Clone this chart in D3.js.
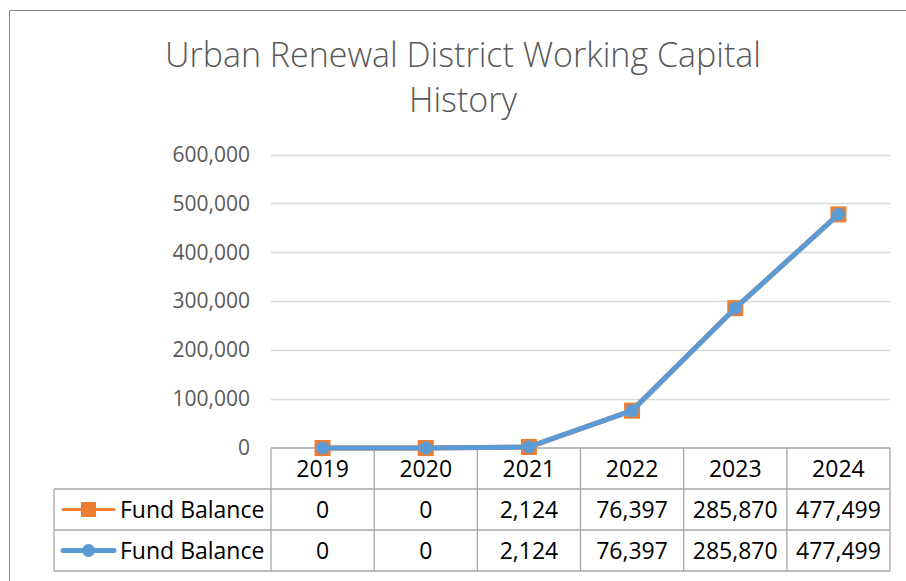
<!DOCTYPE html>
<html><head><meta charset="utf-8">
<script src="https://cdn.jsdelivr.net/npm/d3@7"></script>
<style>body{margin:0;background:#fff}svg{display:block}</style>
</head><body>
<script>
const titleLines = ["Urban Renewal District Working Capital", "History"];
const years = ["2019","2020","2021","2022","2023","2024"];
const seriesNames = ["Fund Balance","Fund Balance"];
const fundBalance = [0, 0, 2124, 76397, 285870, 477499];
const yTicks = [0, 100000, 200000, 300000, 400000, 500000, 600000];

const W = 906, H = 581;
const svg = d3.select("body").append("svg").attr("width", W).attr("height", H);
const font = "'Open Sans', Lato, sans-serif";

// outer chart border
svg.append("path").attr("d", `M9.5,${H} V10.5 H${W}`).attr("fill","none").attr("stroke","#888").attr("stroke-width",1);

// title
svg.append("g").selectAll("text").data(titleLines).join("text")
  .attr("x", 463).attr("y", (d,i)=> 67 + i*45)
  .attr("text-anchor","middle").attr("font-family", font).attr("font-size", 34).attr("font-weight", 300)
  .attr("fill","#595959").text(d=>d);

const x0 = 271, x1 = 890;
const x = d3.scaleBand().domain(years).range([x0, x1]);
const y = d3.scaleLinear().domain([0, 600000]).range([448, 154.5]);

// gridlines
svg.append("g").selectAll("line").data(yTicks.filter(d=>d>0)).join("line")
  .attr("x1", x0).attr("x2", x1).attr("y1", d=>Math.round(y(d))+0.5).attr("y2", d=>Math.round(y(d))+0.5)
  .attr("stroke","#d9d9d9").attr("stroke-width",1.5);

// y axis labels
const yAxis = d3.axisLeft(y).tickValues(yTicks).tickSize(0).tickPadding(0).tickFormat(d3.format(","));
const ya = svg.append("g").attr("transform", `translate(250,0)`).call(yAxis);
ya.select(".domain").remove();
ya.selectAll("text").attr("font-family", font).attr("font-size", 21).attr("fill","#595959");

// data table grid
const rowY = [448, 489, 530, 571];
const tableLeft = 54;
const g = svg.append("g").attr("stroke","#a6a6a6").attr("stroke-width",1.3).attr("fill","none");
g.append("line").attr("x1", x0).attr("x2", x1).attr("y1", rowY[0]).attr("y2", rowY[0]);
[1,2,3].forEach(i=> g.append("line").attr("x1", tableLeft).attr("x2", x1).attr("y1", rowY[i]).attr("y2", rowY[i]));
const vx = years.map(d=>x(d)).concat([x1]);
vx.forEach(v=> g.append("line").attr("x1", v).attr("x2", v).attr("y1", rowY[0]).attr("y2", rowY[3]));
g.append("line").attr("x1", tableLeft).attr("x2", tableLeft).attr("y1", rowY[1]).attr("y2", rowY[3]);

const fs = 23, dy = 8;
// header years
svg.append("g").selectAll("text").data(years).join("text")
  .attr("x", d=>x(d)+x.bandwidth()/2).attr("y", (rowY[0]+rowY[1])/2 + dy)
  .attr("text-anchor","middle").attr("font-family", font).attr("font-size", fs).attr("fill","#000").text(d=>d);

// value rows
const fmt = d3.format(",");
seriesNames.forEach((name, r)=>{
  const cy = (rowY[r+1]+rowY[r+2])/2;
  svg.append("g").selectAll("text").data(fundBalance).join("text")
    .attr("x", (d,i)=>x(years[i])+x.bandwidth()/2).attr("y", cy + dy)
    .attr("text-anchor","middle").attr("font-family", font).attr("font-size", fs).attr("fill","#000").text(d=>fmt(d));
  svg.append("text").attr("x", 120).attr("y", cy+dy).attr("font-family", font).attr("font-size", fs).attr("fill","#000").text(name);
  const col = r===0 ? "#ED7D31" : "#5B9BD5";
  svg.append("line").attr("x1", 63).attr("x2", 114).attr("y1", cy).attr("y2", cy)
    .attr("stroke", col).attr("stroke-width", r===0?3:5).attr("stroke-linecap","round");
  if (r===0) svg.append("rect").attr("x", 88.5-7.5).attr("y", cy-7.5).attr("width",15).attr("height",15).attr("fill", col);
  else svg.append("circle").attr("cx", 88.5).attr("cy", cy).attr("r", 6.5).attr("fill", col);
});

// series
const line = d3.line().x((d,i)=>x(years[i])+x.bandwidth()/2).y(d=>y(d));
svg.append("path").datum(fundBalance).attr("d", line).attr("fill","none").attr("stroke","#ED7D31").attr("stroke-width",5);
svg.append("g").selectAll("rect").data(fundBalance).join("rect")
  .attr("x",(d,i)=>x(years[i])+x.bandwidth()/2-8).attr("y", d=>y(d)-8).attr("width",16).attr("height",16)
  .attr("fill","#ED7D31");
svg.append("path").datum(fundBalance).attr("d", line).attr("fill","none").attr("stroke","#5B9BD5").attr("stroke-width",5).attr("stroke-linejoin","round");
svg.append("g").selectAll("circle").data(fundBalance).join("circle")
  .attr("cx",(d,i)=>x(years[i])+x.bandwidth()/2).attr("cy", d=>y(d)).attr("r",6.5)
  .attr("fill","#5B9BD5");
</script>
</body></html>
